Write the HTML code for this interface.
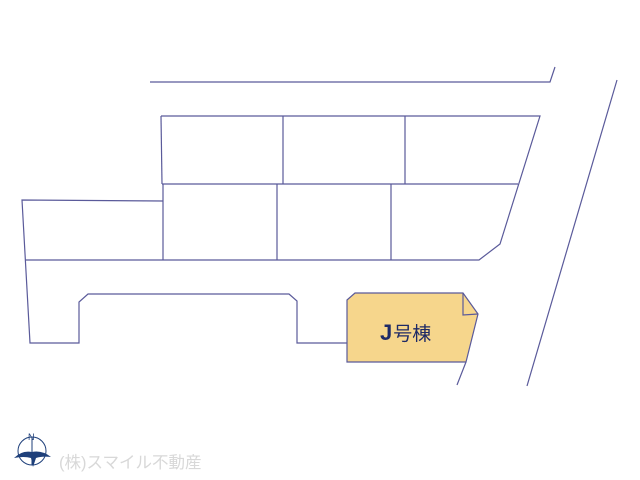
<!DOCTYPE html>
<html><head><meta charset="utf-8"><style>
body{margin:0;background:#fff;width:640px;height:480px;overflow:hidden}
svg{display:block}
</style></head><body>
<svg width="640" height="480" viewBox="0 0 640 480" xmlns="http://www.w3.org/2000/svg">
<g fill="none" stroke="#5a5a9a" stroke-width="1.2">
<polyline points="150,82 550,82 555,67"/>
<line x1="617" y1="80" x2="527" y2="386"/>
<polyline points="161,116 540,116 500,244 479,260 25,260"/>
<line x1="161" y1="116" x2="162" y2="184"/>
<line x1="162" y1="184" x2="518" y2="184"/>
<line x1="283" y1="116" x2="283" y2="184"/>
<line x1="405" y1="116" x2="405" y2="184"/>
<line x1="163" y1="184" x2="163" y2="260"/>
<line x1="277" y1="184" x2="277" y2="260"/>
<line x1="391" y1="184" x2="391" y2="260"/>
<polyline points="163,201 22,200 30,343 79,343 79,302 88,294 289,294 297,301 297,343 347,343"/>
<polygon points="347,300 355,293 463,293 478,314 466,362 347,362" fill="#f6d68c"/>
<polyline points="463,293 463,315 478,314"/>
<line x1="466" y1="362" x2="457" y2="385"/>
</g>
<text x="380" y="340" font-family="Liberation Sans, Noto Sans CJK JP, sans-serif" font-size="22" fill="#1e2a66" font-weight="bold">J<tspan font-size="19" font-weight="normal" dx="1">号棟</tspan></text>
<g stroke="#1e3f7a" fill="none" stroke-width="1">
<circle cx="32" cy="451" r="14"/>
<line x1="32" y1="437" x2="32" y2="465"/>
</g>
<text x="28" y="440" font-family="Liberation Sans, sans-serif" font-size="9" fill="#1e3f7a">N</text>
<path d="M14,458 Q22,450 32,452 Q42,450 51,457 Q42,456 36,458 L33,467 L31,458 Q24,456 14,458Z" fill="#1e3f7a"/>
<text x="59" y="468" font-family="Liberation Sans, Noto Sans CJK JP, sans-serif" font-size="16.5" fill="#d8d8d8">(株)スマイル不動産</text>
</svg>
</body></html>
